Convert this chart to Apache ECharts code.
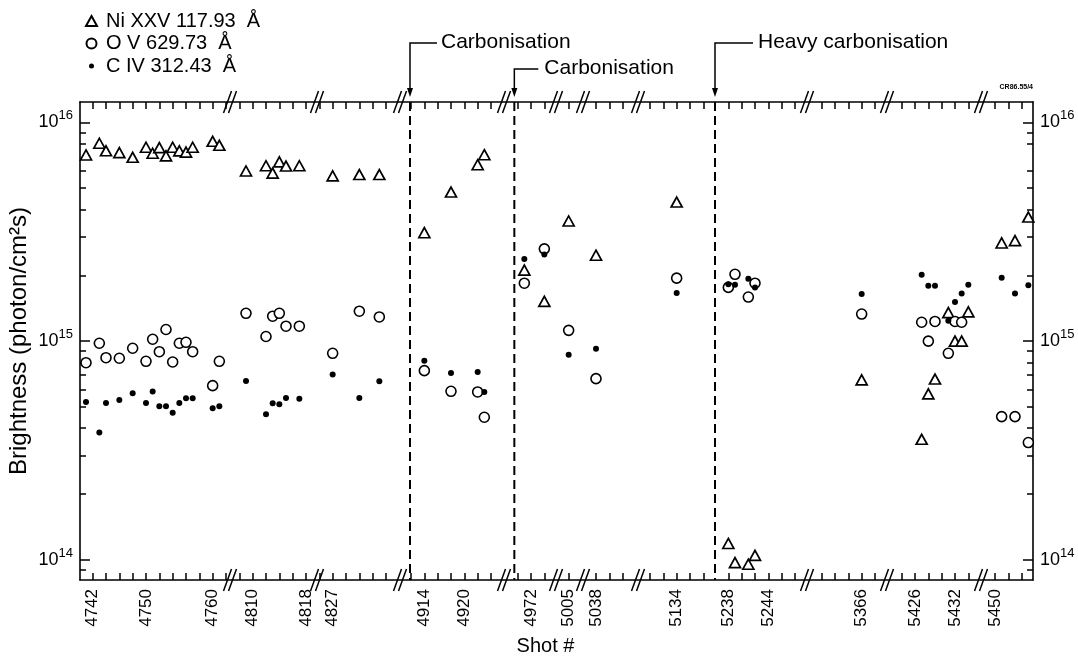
<!DOCTYPE html>
<html><head><meta charset="utf-8">
<script src="https://cdn.jsdelivr.net/npm/echarts@6/dist/echarts.min.js"></script>
<style>html,body{margin:0;padding:0;background:#fff}#c{width:1078px;height:664px}</style>
</head><body><div id="c"></div>
<script>
// ---------------- data ----------------
const NI = 'Ni XXV 117.93  Å';
const OV = 'O V 629.73  Å';
const CIV = 'C IV 312.43  Å';

const shots = [4741,4743,4744,4746,4748,4750,4751,4752,4753,4754,4755,4756,4757,4760,4761,
  4809,4812,4813,4814,4815,4817,
  4827,4831,4834,
  4914,4918,4922,4923,
  4971,4974,
  5005,5038,5134,
  5238,5239,5241,5242,
  5366,
  5427,5428,5429,5431,5432,5433,5434,
  5451,5453,5455];
const niXXV = [7.09e15,8.02e15,7.41e15,7.27e15,6.92e15,7.69e15,7.22e15,7.66e15,7.02e15,7.69e15,7.40e15,7.31e15,7.69e15,8.19e15,7.85e15,
  5.99e15,6.33e15,5.86e15,6.59e15,6.31e15,6.33e15,
  5.69e15,5.77e15,5.77e15,
  3.13e15,4.80e15,6.40e15,7.11e15,
  2.11e15,1.52e15,
  3.54e15,2.47e15,4.32e15,
  1.19e14,9.72e13,9.56e13,1.05e14,
  6.65e14,
  3.56e14,5.74e14,6.71e14,1.35e15,1.00e15,1.00e15,1.36e15,
  2.81e15,2.88e15,3.69e15];
const oV = [7.97e14,9.78e14,8.40e14,8.35e14,9.28e14,8.09e14,1.02e15,8.95e14,1.13e15,8.03e14,9.78e14,9.88e14,8.95e14,6.26e14,8.09e14,
  1.34e15,1.05e15,1.30e15,1.34e15,1.17e15,1.17e15,
  8.80e14,1.37e15,1.29e15,
  7.33e14,5.90e14,5.86e14,4.49e14,
  1.84e15,2.64e15,
  1.12e15,6.74e14,1.94e15,
  1.76e15,2.02e15,1.59e15,1.84e15,
  1.33e15,
  1.22e15,1.00e15,1.23e15,8.80e14,1.23e15,1.22e15,null,
  4.52e14,4.52e14,3.44e14];
const cIV = [5.27e14,3.82e14,5.22e14,5.38e14,5.78e14,5.22e14,5.88e14,5.04e14,5.04e14,4.71e14,5.22e14,5.48e14,5.48e14,4.93e14,5.04e14,
  6.58e14,4.63e14,5.20e14,5.15e14,5.50e14,5.46e14,
  7.03e14,5.50e14,6.56e14,
  8.14e14,7.15e14,7.23e14,5.86e14,
  2.37e15,2.49e15,
  8.67e14,9.24e14,1.66e15,
  1.82e15,1.81e15,1.93e15,1.76e15,
  1.64e15,
  2.01e15,1.79e15,1.79e15,1.24e15,1.51e15,1.65e15,1.81e15,
  1.95e15,1.65e15,1.80e15];

// broken shot axis: visible shot range of each piece
const axisSegments = [[4740.1,4762.6],[4806.6,4819.65],[4824.65,4837.1],[4910.35,4925.95],[4967.95,4975.75],
  [5003.1,5007.15],[5036.05,5044.3],[5128.2,5139.75],[5236,5249.8],[5357.8,5369.8],[5421.8,5435.9],[5447.9,5455.7]];
const brokenAfter = [true,true,true,true,true,true,true,false,true,true,true,false];
const tickAnchors = [4742,4808,4827,4914,4972,5005,5038,5134,5238,5366,5426,5450];
const tickStep = 2;
const tickLabels = [4742,4750,4760,4810,4818,4827,4914,4920,4972,5005,5038,5134,5238,5244,5366,5426,5432,5450];
const events = [
  {shot: 4911.85, label: 'Carbonisation'},
  {shot: 4969.5, label: 'Carbonisation'},
  {shot: 5139.75, label: 'Heavy carbonisation'}
];
const yRange = [8.1e13, 1.238e16];
const yTicksMajor = [1e14, 1e15, 1e16];
const yTicksMinor = [9e13, 2e14,3e14,4e14,5e14,6e14,7e14,8e14,9e14, 2e15,3e15,4e15,5e15,6e15,8e15,9e15];

// ---------------- layout / style ----------------
const FONT = '"Liberation Sans", Arial, Helvetica, sans-serif';
const L = 80, R = 1033, T = 102, B = 580;
const PW = R - L, PH = B - T;
const eventStyle = [{rise: 59, arm: 27, gap: 4}, {rise: 33, arm: 24, gap: 6}, {rise: 59, arm: 38, gap: 5}];
const AXC = '#000';

const totalShots = axisSegments.reduce((s, r) => s + r[1] - r[0], 0);
const pxPerShot = PW / totalShots;

const gridBase = {containLabel: false, outerBoundsMode: 'none'};
const grid = [Object.assign({left: L, top: T, width: PW, height: PH}, gridBase)];
const frameLine = {show: true, onZero: false, lineStyle: {color: AXC, width: 1.6}};
const xAxis = [
  {gridIndex: 0, type: 'value', min: 0, max: 1, position: 'bottom', axisLine: frameLine,
   axisTick: {show: false}, axisLabel: {show: false}, splitLine: {show: false},
   name: 'Shot #', nameLocation: 'middle', nameGap: 56, nameMoveOverlap: false,
   nameTextStyle: {fontSize: 20, fontFamily: FONT, color: '#000', padding: [0, 22, 0, 0]}},
  {gridIndex: 0, type: 'value', min: 0, max: 1, position: 'top', axisLine: frameLine,
   axisTick: {show: false}, axisLabel: {show: false}, splitLine: {show: false}}
];
const yLabelRich = {
  b: {fontSize: 18, fontFamily: FONT, color: '#000', lineHeight: 26},
  s: {fontSize: 13, fontFamily: FONT, color: '#000', lineHeight: 14, verticalAlign: 'top'}
};
const yFmt = v => '{b|10}{s|' + Math.round(Math.log10(v)) + '}';
function yAx(pos, major) {
  return {gridIndex: 0, type: 'log', logBase: 10, min: yRange[0], max: yRange[1], position: pos,
    splitLine: {show: false}, axisLine: {show: major, lineStyle: {color: AXC, width: 1.6}},
    axisTick: {show: true, inside: true, length: major ? 10 : 6, customValues: major ? yTicksMajor : yTicksMinor,
      lineStyle: {color: AXC, width: 1.5}},
    axisLabel: major ? {show: true, customValues: yTicksMajor, formatter: yFmt, rich: yLabelRich, margin: 7}
                     : {show: false}};
}
const yAxis = [yAx('left', true), yAx('left', false), yAx('right', true), yAx('right', false)];
yAxis[0].name = 'Brightness (photon/cm²s)';
yAxis[0].nameLocation = 'middle';
yAxis[0].nameGap = 49;
yAxis[0].nameMoveOverlap = false;
yAxis[0].nameTextStyle = {fontSize: 24, fontFamily: FONT, color: '#000'};

const series = [];
const sets = [
  {name: NI, values: niXXV, symbol: 'triangle', size: [11, 10], itemStyle: {color: '#fff', borderColor: '#000', borderWidth: 1.7, opacity: 1}},
  {name: OV, values: oV, symbol: 'circle', size: 10, itemStyle: {color: '#fff', borderColor: '#000', borderWidth: 1.6, opacity: 1}},
  {name: CIV, values: cIV, symbol: 'circle', size: 6, itemStyle: {color: '#000', opacity: 1}}
];

let acc = L;
axisSegments.forEach((seg, k) => {
  const [a, b] = seg;
  const w = (b - a) * pxPerShot;
  grid.push(Object.assign({left: acc, top: T, width: w, height: PH}, gridBase));
  acc += w;
  const gi = k + 1;
  const anchor = tickAnchors[k];
  const ticks = [];
  for (let v = anchor; v < b - 0.3; v += tickStep) if (v > a + 0.3) ticks.push(v);
  for (let v = anchor - tickStep; v > a + 0.3; v -= tickStep) ticks.push(v);
  const labels = tickLabels.filter(v => v >= a && v <= b);
  const tickStyle = {show: true, inside: true, length: 7, customValues: ticks, lineStyle: {color: AXC, width: 1.5}};
  xAxis.push({gridIndex: gi, type: 'value', min: a, max: b, position: 'bottom', axisLine: {show: false, onZero: false},
    axisTick: tickStyle, splitLine: {show: false},
    axisLabel: {show: true, customValues: labels, rotate: 90, margin: 9, fontSize: 17, fontFamily: FONT, color: '#000',
      formatter: v => String(Math.round(v))}});
  xAxis.push({gridIndex: gi, type: 'value', min: a, max: b, position: 'top', axisLine: {show: false, onZero: false},
    axisTick: tickStyle, splitLine: {show: false}, axisLabel: {show: false}});
  yAxis.push({gridIndex: gi, type: 'log', min: yRange[0], max: yRange[1], show: false, splitLine: {show: false}});
  const xi = 2 + 2 * k, yi = 4 + k;

  sets.forEach((s, si) => {
    const data = [];
    shots.forEach((x, i) => { if (x >= a && x <= b && s.values[i] != null) data.push([x, s.values[i]]); });
    series.push({type: 'scatter', name: s.name, xAxisIndex: xi, yAxisIndex: yi, data, symbol: s.symbol,
      symbolSize: s.size, itemStyle: s.itemStyle, silent: true, z: 3 + si});
  });

  if (brokenAfter[k]) {
    series.push({type: 'custom', xAxisIndex: xi, yAxisIndex: yi, silent: true, clip: false, z: 10,
      data: [[b, yRange[0]]],
      renderItem: (p, api) => {
        const x = api.value(0);
        const bot = api.coord([x, yRange[0]]), top = api.coord([x, yRange[1]]);
        const children = [];
        [bot, top].forEach(pt => {
          [-2.5, 2.5].forEach(d => children.push({type: 'line',
            shape: {x1: pt[0] + d - 4, y1: pt[1] + 11, x2: pt[0] + d + 4, y2: pt[1] - 11},
            style: {stroke: '#000', lineWidth: 1.5}}));
        });
        return {type: 'group', children};
      }});
  }

  events.forEach((ev, ei) => {
    if (ev.shot < a || ev.shot > b) return;
    const st = eventStyle[ei];
    series.push({type: 'custom', xAxisIndex: xi, yAxisIndex: yi, silent: true, clip: false, z: 9,
      data: [[ev.shot, yRange[0]]],
      renderItem: (p, api) => {
        const x = api.value(0);
        const top = api.coord([x, yRange[1]]), bot = api.coord([x, yRange[0]]);
        const yl = top[1] - st.rise;
        const tip = top[1] - 5;
        return {type: 'group', children: [
          {type: 'line', shape: {x1: top[0], y1: top[1], x2: bot[0], y2: bot[1]},
           style: {stroke: '#000', lineWidth: 2, lineDash: [9, 5]}},
          {type: 'polyline', shape: {points: [[top[0], tip - 7], [top[0], yl], [top[0] + st.arm, yl]]},
           style: {stroke: '#000', lineWidth: 1.5, fill: null}},
          {type: 'polygon', shape: {points: [[top[0] - 3, tip - 9], [top[0] + 3, tip - 9], [top[0], tip]]},
           style: {fill: '#000'}},
          {type: 'text', x: top[0] + st.arm + st.gap, y: yl - 1,
           style: {text: ev.label, fontSize: 21, fontFamily: FONT, fill: '#000', verticalAlign: 'middle', align: 'left'}}
        ]};
      }});
  });
});

const option = {
  animation: false,
  backgroundColor: '#fff',
  grid, xAxis, yAxis, series,
  legend: {
    orient: 'vertical', left: 85, top: 11, itemWidth: 11, itemHeight: 10, itemGap: 2.5, padding: 0,
    selectedMode: false,
    textStyle: {fontSize: 20, fontFamily: FONT, color: '#000', padding: [0, 0, 0, 4]},
    data: [{name: NI, icon: 'triangle'}, {name: OV, icon: 'circle'},
           {name: CIV, icon: 'path://M0 0M10 10M2.5 5A2.5 2.5 0 1 0 7.5 5A2.5 2.5 0 1 0 2.5 5Z'}]
  },
  graphic: [{type: 'text', right: 1078 - R, top: 84,
    style: {text: 'CR86.55/4', fontSize: 7, fontWeight: 'bold', fontFamily: FONT, fill: '#000'}}]
};
const chart = echarts.init(document.getElementById('c'), null, {renderer: 'canvas'});
chart.setOption(option);
</script></body></html>
